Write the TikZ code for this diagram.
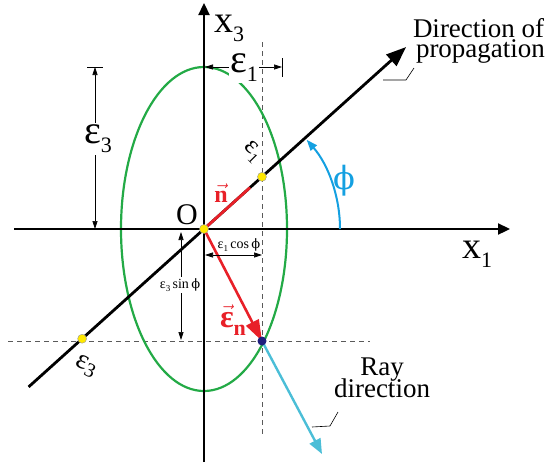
\documentclass[tikz,border=0pt]{standalone}
\usepackage{fontspec}
\setmainfont{Liberation Serif}
\newfontfamily\phifont{DejaVu Serif}
\usetikzlibrary{arrows.meta,calc}
\definecolor{ellgreen}{RGB}{35,170,70}
\definecolor{vecred}{RGB}{232,32,40}
\definecolor{raycyan}{RGB}{75,190,215}
\definecolor{phiblue}{RGB}{20,160,225}
\definecolor{ptblue}{RGB}{30,30,125}
\definecolor{ptyellow}{RGB}{255,232,0}
\definecolor{dashgray}{RGB}{90,90,90}
\newcommand{\fs}[1]{\fontsize{#1}{#1}\selectfont}
\begin{document}
\begin{tikzpicture}[x=1pt,y=-1pt,
  axisline/.style={line width=2.3pt, -{Triangle[length=12pt,width=11pt]}},
  propline/.style={line width=2.8pt, -{Triangle[length=20pt,width=15pt]}},
  guide/.style={dashgray, line width=0.8pt, dash pattern=on 5pt off 4pt},
  dimline/.style={line width=0.7pt, {Triangle[length=8pt,width=5pt]}-{Triangle[length=8pt,width=5pt]}},
  dimbar/.style={line width=1pt},
  yellowpt/.style={circle, fill=ptyellow, draw=black!40, line width=0.4pt, inner sep=0pt, minimum size=9pt},
  bluept/.style={circle, fill=ptblue, inner sep=0pt, minimum size=9pt},
  lab/.style={inner sep=0pt, outer sep=0pt},
  whitelab/.style={fill=white, inner sep=1.5pt}]
\useasboundingbox (0,0) rectangle (557,464);

% key coordinates
\coordinate (O) at (204,229);
\coordinate (x3bot) at (204,462);
\coordinate (x3top) at (204,3);
\coordinate (x1left) at (14,229);
\coordinate (x1right) at (510,229);
\coordinate (proplow) at ($(O)+(138:236)$);
\coordinate (proptip) at ($(O)+(-42:272)$);
\coordinate (ntip) at ($(O)+(-42:62)$);
\coordinate (Q) at (262,341);
\coordinate (raytip) at (322,454);
\coordinate (vtop) at (262,42);
\coordinate (vbot) at (262,437);
\coordinate (hleft) at (8,341);
\coordinate (hright) at (370,341);

% dashed guide lines
\draw[guide] (vtop) -- (vbot);
\draw[guide] (hleft) -- (hright);

% ellipse
\draw[ellgreen, line width=2.2pt] (O) ellipse [x radius=83, y radius=162];

% axes
\draw[axisline] (x3bot) -- (x3top);
\draw[axisline] (x1left) -- (x1right);

% propagation line
\draw[propline] (proplow) -- (proptip);

% ray direction
\draw[raycyan, line width=2.4pt, -{Triangle[length=15pt,width=12pt]}] (Q) -- (raytip);

% red vectors
\draw[vecred, line width=2.8pt] (O) -- (ntip);
\draw[vecred, line width=2.6pt, -{Triangle[length=21pt,width=14pt]}] (O) -- (Q);

% phi arc
\draw[phiblue, line width=2pt, -{Triangle[length=11pt,width=8pt]}] ($(O)+(136,0)$) arc[start angle=0, end angle=-41, radius=136];

% points
\node[yellowpt] (P1) at ($(O)+(-42:78)$) {};
\node[yellowpt] (P3) at ($(O)+(138:164)$) {};
\node[yellowpt] (Opt) at (O) {};
\node[bluept] (Qpt) at (Q) {};

% epsilon_3 dimension (left)
\coordinate (e3top) at (95,67);
\coordinate (e3bot) at (95,229);
\draw[dimbar] (87,67) -- (103,67);
\draw[dimbar] (87,229) -- (103,229);
\draw[dimline] (e3top) -- (e3bot);
\node[whitelab] (e3lab) at (98,139) {\fs{40}ε\raisebox{-9pt}{\fs{22}3}};

% epsilon_1 dimension (top)
\coordinate (e1left) at (205,67);
\coordinate (e1right) at (282,67);
\draw[dimbar] (282,58) -- (282,77);
\draw[dimline] (e1left) -- (e1right);
\node[whitelab] (e1lab) at (244,68) {\fs{40}ε\raisebox{-9pt}{\fs{22}1}};

% epsilon_1 cos phi
\coordinate (c1) at (205,255);
\coordinate (c2) at (262,255);
\draw[dimline] (c1) -- (c2);
\node[lab] (cosl) at (239,245) {\fs{14}ε\raisebox{-3pt}{\fs{9}1}\,cos\,{\phifont\fs{13}ϕ}};

% epsilon_3 sin phi
\coordinate (s1) at (181,232);
\coordinate (s2) at (181,340);
\draw[dimline] (s1) -- (s2);
\node[whitelab] (sinl) at (180,285) {\fs{14}ε\raisebox{-3pt}{\fs{9}3}\,sin\,{\phifont\fs{13}ϕ}};

% axis labels
\node[lab, anchor=base west] (x3lab) at (214,32) {\fs{38}x\raisebox{-9pt}{\fs{22}3}};
\node[lab, anchor=base west] (x1lab) at (462,258) {\fs{38}x\raisebox{-9pt}{\fs{22}1}};
\node[lab, anchor=base] (Olab) at (187,224) {\fs{30}O};
\node[lab, phiblue] (philab) at (344,181) {\phifont\fs{32}ϕ};

% vector labels
\node[lab, vecred] (nlab) at (221,193) {\fs{24}$\vec{\hbox{\bfseries n}}$};
\node[lab, vecred] (enlab) at (233,320) {\fs{32}$\vec{\hbox{\bfseries ε}}$\raisebox{-8pt}{\fs{22}\bfseries n}};

% rotated epsilon labels on propagation line
\node[lab, rotate=-45] (e1rot) at (252,152) {\fs{26}ε\raisebox{-6pt}{\fs{15}1}};
\node[lab, rotate=-25] (e3rot) at (86,366) {\fs{28}ε\raisebox{-5pt}{\fs{20}3}};

% text labels with leaders
\node[lab, align=left, anchor=north west, font=\fs{27}] (proplab) at (413,18) {Direction of\\[-7pt]\hspace{3pt}propagation};
\coordinate (pl1) at (383,80);
\coordinate (pl2) at (406,80);
\coordinate (pl3) at (414,68);
\draw[line width=0.6pt] (pl1) -- (pl2) -- (pl3);

\node[lab, align=center, anchor=north, font=\fs{27}] (raylab) at (382,358) {Ray\\[-5pt]direction};
\coordinate (rl1) at (312,427);
\coordinate (rl2) at (330,426);
\coordinate (rl3) at (338,412);
\draw[line width=0.6pt] (rl1) -- (rl2) -- (rl3);
\end{tikzpicture}
\end{document}
